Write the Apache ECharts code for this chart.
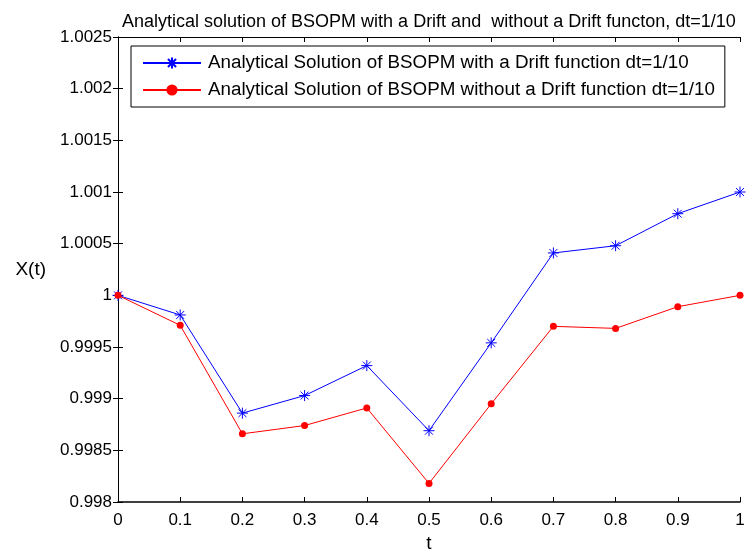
<!DOCTYPE html>
<html>
<head>
<meta charset="utf-8">
<script src="https://cdn.jsdelivr.net/npm/echarts@6/dist/echarts.min.js"></script>
<style>
  html, body { margin: 0; padding: 0; background: #fff; }
  #chart { width: 749px; height: 550px; }
</style>
</head>
<body>
<div id="chart"></div>
<script>
// values
const tValues = ['0', '0.1', '0.2', '0.3', '0.4', '0.5', '0.6', '0.7', '0.8', '0.9', '1'];
const withDrift = [1.0000, 0.99981, 0.99886, 0.99903, 0.99932, 0.99869, 0.99954, 1.00041, 1.00048, 1.00079, 1.00100];
const withoutDrift = [1.0000, 0.99971, 0.99866, 0.99874, 0.99891, 0.99818, 0.99895, 0.99970, 0.99968, 0.99989, 1.0000];

const font = 'Arial, "Liberation Sans", sans-serif';
const star = 'path://M0,-5L0,5M-5,0L5,0M-3.6,-3.6L3.6,3.6M-3.6,3.6L3.6,-3.6';

function pair(arr) {
  return arr.map((v, i) => [i / 10, v]);
}

const chart = echarts.init(document.getElementById('chart'));

const tickStyle = { show: true, inside: true, length: 5, lineStyle: { color: '#000' } };

let option = {
  animation: false,
  backgroundColor: '#fff',
  title: {
    text: 'Analytical solution of BSOPM with a Drift and  without a Drift functon, dt=1/10',
    left: 117, top: 8,
    textStyle: { fontFamily: font, fontSize: 18, fontWeight: 'normal', color: '#000' }
  },
  grid: { left: 118, right: 9, top: 37, bottom: 48, outerBoundsMode: 'none', containLabel: false },
  legend: {
    left: 131, top: 46,
    orient: 'vertical',
    backgroundColor: '#fff',
    borderColor: '#000', borderWidth: 1,
    padding: [7, 10, 7, 11],
    itemGap: 7,
    itemWidth: 58, itemHeight: 14,
    textStyle: { fontFamily: font, fontSize: 18.8, lineHeight: 20, color: '#000', padding: [0, 0, 0, 2] },
    data: ['Analytical Solution of BSOPM with a Drift function dt=1/10',
           'Analytical Solution of BSOPM without a Drift function dt=1/10']
  },
  xAxis: [{
    type: 'value', min: 0, max: 1, interval: 0.1,
    name: 't', nameLocation: 'middle', nameGap: 29,
    nameTextStyle: { fontFamily: font, fontSize: 19, color: '#000' },
    axisLine: { lineStyle: { color: '#000', width: 1.5 } },
    axisTick: tickStyle,
    splitLine: { show: false },
    axisLabel: { fontFamily: font, fontSize: 17, color: '#000', margin: 10,
      formatter: v => tValues[Math.round(v * 10)] }
  }, {
    type: 'value', min: 0, max: 1, interval: 0.1, position: 'top',
    axisLine: { lineStyle: { color: '#000' } },
    axisTick: tickStyle, axisLabel: { show: false }, splitLine: { show: false }
  }],
  yAxis: [{
    type: 'value', min: 0.998, max: 1.0025, interval: 0.0005,
    name: 'X(t)', nameLocation: 'middle', nameGap: 72, nameRotate: 0,
    nameTextStyle: { fontFamily: font, fontSize: 19, color: '#000' },
    axisLine: { show: true, lineStyle: { color: '#000' } },
    axisTick: tickStyle,
    splitLine: { show: false },
    axisLabel: { fontFamily: font, fontSize: 17, color: '#000', margin: 6,
      formatter: v => String(parseFloat(v.toFixed(4))) }
  }, {
    type: 'value', min: 0.998, max: 1.0025, interval: 0.0005, position: 'right',
    axisLine: { show: true, lineStyle: { color: '#000' } },
    axisTick: tickStyle, axisLabel: { show: false }, splitLine: { show: false }
  }],
  series: [{
    name: 'Analytical Solution of BSOPM with a Drift function dt=1/10',
    type: 'line', data: pair(withDrift),
    symbol: star, symbolSize: 11, showAllSymbol: true,
    lineStyle: { color: '#0000ff', width: 1 },
    itemStyle: { color: '#0000ff', borderColor: '#0000ff', borderWidth: 1 }
  }, {
    name: 'Analytical Solution of BSOPM without a Drift function dt=1/10',
    type: 'line', data: pair(withoutDrift),
    symbol: 'circle', symbolSize: 7, showAllSymbol: true,
    lineStyle: { color: '#ff0000', width: 1 },
    itemStyle: { color: '#ff0000', borderWidth: 0 }
  }]
};

chart.setOption(option);
</script>
</body>
</html>
